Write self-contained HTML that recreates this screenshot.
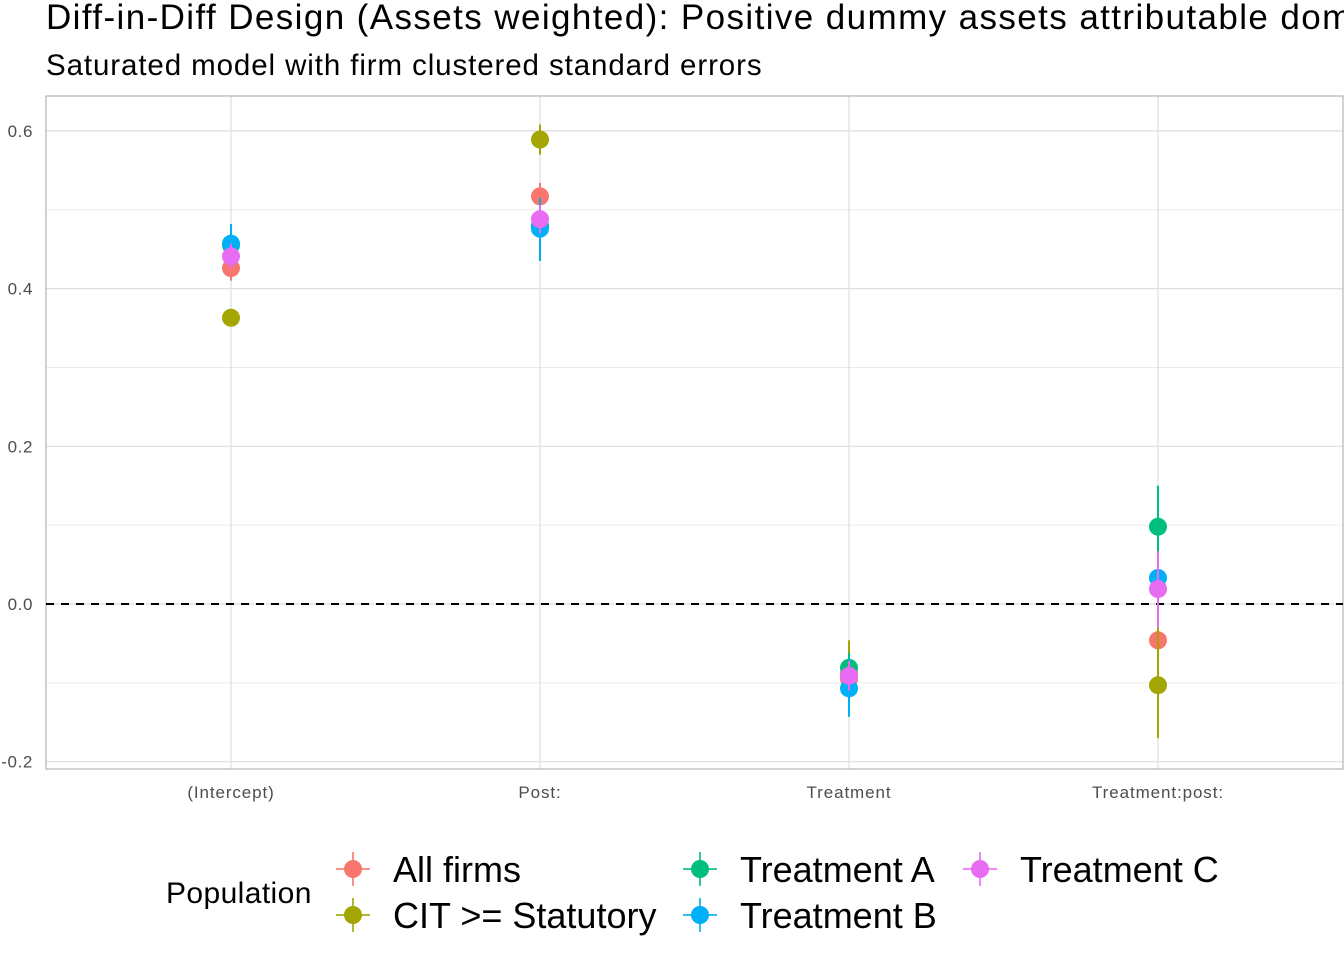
<!DOCTYPE html>
<html><head><meta charset="utf-8"><style>
html,body{margin:0;padding:0;background:#fff;}
svg text{font-family:"Liberation Sans",Arial,sans-serif;}
</style></head><body>
<svg id="chart" width="1344" height="960" viewBox="0 0 1344 960" xmlns="http://www.w3.org/2000/svg">
<text x="46" y="29" font-size="35" letter-spacing="1.4" fill="#000">Diff-in-Diff Design (Assets weighted): Positive dummy assets attributable domestic</text>
<text x="46" y="75" font-size="29.5" letter-spacing="0.9" fill="#000">Saturated model with firm clustered standard errors</text>
<g id="grid"></g>
<g id="marks"></g>
<g id="legend"></g>
</svg>
<script>
const categories = ["(Intercept)", "Post:", "Treatment", "Treatment:post:"];
const seriesNames = ["All firms", "CIT >= Statutory", "Treatment A", "Treatment B", "Treatment C"];
const seriesColors = ["#F8766D", "#A3A500", "#00BF7D", "#00B0F6", "#E76BF3"];
const estAll = [0.426, 0.517, -0.095, -0.046];
const loAll = [0.410, 0.500, -0.115, -0.075];
const hiAll = [0.442, 0.534, -0.075, -0.017];
const estCIT = [0.363, 0.589, -0.088, -0.103];
const loCIT = [0.352, 0.570, -0.129, -0.170];
const hiCIT = [0.374, 0.608, -0.046, -0.027];
const estA = [0.455, 0.480, -0.081, 0.098];
const loA = [0.440, 0.460, -0.100, 0.045];
const hiA = [0.470, 0.500, -0.062, 0.150];
const estB = [0.457, 0.476, -0.107, 0.033];
const loB = [0.432, 0.435, -0.143, 0.000];
const hiB = [0.482, 0.515, -0.070, 0.066];
const estC = [0.441, 0.488, -0.091, 0.019];
const loC = [0.425, 0.470, -0.110, -0.030];
const hiC = [0.457, 0.506, -0.072, 0.067];
const yTicks = [-0.2, 0.0, 0.2, 0.4, 0.6];
const yTickLabels = ["-0.2", "0.0", "0.2", "0.4", "0.6"];

const est = [estAll, estCIT, estA, estB, estC];
const lo = [loAll, loCIT, loA, loB, loC];
const hi = [hiAll, hiCIT, hiA, hiB, hiC];

const NS = "http://www.w3.org/2000/svg";
const P = {l: 46, r: 1343, t: 96, b: 769};
function y(v){ return 604 - v * 788.5; }
function x(i){ return 231 + i * 309; }
function mk(tag, attrs, parent){
  const e = document.createElementNS(NS, tag);
  for (const k in attrs) e.setAttribute(k, attrs[k]);
  parent.appendChild(e); return e;
}
const grid = document.getElementById('grid');
const marks = document.getElementById('marks');
const legend = document.getElementById('legend');
for (let i = 0; i < yTicks.length - 1; i++) {
  const m = (yTicks[i] + yTicks[i+1]) / 2;
  const l = mk('line', {x1: P.l, x2: P.r, y1: y(m), y2: y(m), stroke: '#ebebeb', 'stroke-width': 1}, grid);
  
  
}
yTicks.forEach((t, i) => {
  const l = mk('line', {x1: P.l, x2: P.r, y1: y(t), y2: y(t), stroke: '#dedede', 'stroke-width': 1.2}, grid);
  
  
  const tx = mk('text', {x: 33, y: y(t) + 6, 'text-anchor': 'end', 'font-size': 17, 'letter-spacing': 0.6, fill: '#4d4d4d'}, grid);
  tx.textContent = yTickLabels[i];
  
  
});
categories.forEach((c, i) => {
  const l = mk('line', {x1: x(i), x2: x(i), y1: P.t, y2: P.b, stroke: '#dedede', 'stroke-width': 1.2}, grid);
  
  
  const tx = mk('text', {x: x(i), y: 798, 'text-anchor': 'middle', 'font-size': 17, 'letter-spacing': 0.9, fill: '#4d4d4d'}, grid);
  tx.textContent = c;
  
  
});
const border = mk('rect', {x: P.l, y: P.t, width: P.r - P.l, height: P.b - P.t, fill: 'none', stroke: '#b3b3b3', 'stroke-width': 1.2}, grid);


const zl = mk('line', {x1: P.l, x2: P.r, y1: y(0), y2: y(0), stroke: '#000', 'stroke-width': 2, 'stroke-dasharray': '8,7'}, grid);



est.forEach((s, k) => {
  s.forEach((v, i) => {
    const el = mk('line', {x1: x(i), x2: x(i), y1: y(lo[k][i]), y2: y(hi[k][i]), stroke: seriesColors[k], 'stroke-width': 2}, marks);
    
    
    const p = mk('circle', {cx: x(i), cy: y(v), r: 9, fill: seriesColors[k]}, marks);
    
    
  });
});

const lt = mk('text', {x: 166, y: 903, 'font-size': 30, 'letter-spacing': 0.4, fill: '#000'}, legend);
lt.textContent = 'Population';


const lpos = [[353, 869], [353, 915], [700, 869], [700, 915], [980, 869]];
seriesNames.forEach((n, k) => {
  const [cx, cy] = lpos[k];
  const g = mk('g', {}, legend);
  
  
  mk('line', {x1: cx - 17, x2: cx + 17, y1: cy, y2: cy, stroke: seriesColors[k], 'stroke-width': 2, opacity: 0.8}, g);
  mk('line', {x1: cx, x2: cx, y1: cy - 17, y2: cy + 17, stroke: seriesColors[k], 'stroke-width': 2, opacity: 0.8}, g);
  mk('circle', {cx: cx, cy: cy, r: 9, fill: seriesColors[k]}, g);
  const t = mk('text', {x: cx + 40, y: cy + 13, 'font-size': 36, fill: '#000'}, g);
  t.textContent = n;
});
</script>
</body></html>
